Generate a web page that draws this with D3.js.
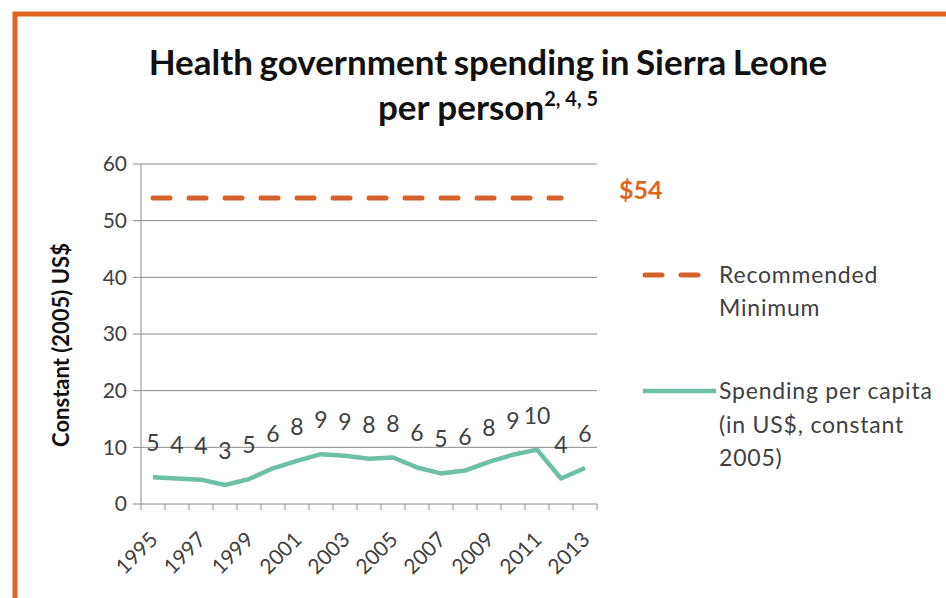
<!DOCTYPE html>
<html>
<head>
<meta charset="utf-8">
<script src="https://cdn.jsdelivr.net/npm/d3@7"></script>
<style>
    body { margin: 0; background: #fff; }
    text { font-family: Lato, "Open Sans", sans-serif; }
</style>
</head>
<body>
<div id="chart"></div>
<script>
// data
var years = ["1995","1996","1997","1998","1999","2000","2001","2002","2003","2004",
             "2005","2006","2007","2008","2009","2010","2011","2012","2013"];
var spending = [4.7, 4.5, 4.3, 3.35, 4.4, 6.3, 7.6, 8.8, 8.5, 8.0,
                8.2, 6.45, 5.4, 5.9, 7.45, 8.7, 9.6, 4.5, 6.35];
var spendingLabels = ["5","4","4","3","5","6","8","9","9","8","8","6","5","6","8","9","10","4","6"];
var minYears = years.slice(0, 18);
var minimum = 54;
var yTicks = [0, 10, 20, 30, 40, 50, 60];
var xTickLabels = ["1995","1997","1999","2001","2003","2005","2007","2009","2011","2013"];

var orange = "#e0661f";
var dashColor = "#d4622a";
var teal = "#6dbfa6";
var textColor = "#404040";
var gridColor = "#8a8a8a";

var margin = { top: 164, right: 349, bottom: 94, left: 141 };
var width = 946 - margin.left - margin.right;
var height = 598 - margin.top - margin.bottom;

var svg = d3.select("#chart").append("svg")
    .attr("width", 946)
    .attr("height", 598);

// slide frame
svg.append("path")
    .attr("d", "M15,598 L15,14 L946,14")
    .attr("fill", "none")
    .attr("stroke", orange)
    .attr("stroke-width", 5);

// title
svg.append("text")
    .attr("x", 488)
    .attr("y", 75)
    .attr("text-anchor", "middle")
    .attr("font-size", 35)
    .attr("font-weight", "bold")
    .attr("fill", "#111")
    .attr("word-spacing", -2)
    .text("Health government spending in Sierra Leone");

var title2 = svg.append("text")
    .attr("x", 488)
    .attr("y", 120)
    .attr("text-anchor", "middle")
    .attr("font-size", 35)
    .attr("font-weight", "bold")
    .attr("fill", "#111");
title2.append("tspan").text("per person");
title2.append("tspan")
    .attr("font-size", 20)
    .attr("dy", -14)
    .text("2, 4, 5");

var g = svg.append("g")
    .attr("transform", "translate(" + margin.left + "," + margin.top + ")");

var x = d3.scaleBand()
    .domain(years)
    .range([0, width]);
var y = d3.scaleLinear()
    .domain([0, 60])
    .range([height, 0]);

// gridlines
g.selectAll(".grid")
    .data(yTicks)
    .enter()
    .append("line")
    .attr("class", "grid")
    .attr("x1", -8)
    .attr("x2", width)
    .attr("y1", function(d) { return y(d); })
    .attr("y2", function(d) { return y(d); })
    .attr("stroke", gridColor)
    .attr("stroke-width", 1);

g.selectAll(".ylab")
    .data(yTicks)
    .enter()
    .append("text")
    .attr("class", "ylab")
    .attr("x", -14)
    .attr("y", function(d) { return y(d); })
    .attr("dy", "0.35em")
    .attr("text-anchor", "end")
    .attr("font-size", 21)
    .attr("fill", textColor)
    .text(function(d) { return d; });

// y axis line
g.append("line")
    .attr("x1", 0).attr("x2", 0)
    .attr("y1", 0).attr("y2", height)
    .attr("stroke", gridColor);

// x ticks at category boundaries
var bounds = years.map(function(d) { return x(d); }).concat([width]);
g.selectAll(".xtick")
    .data(bounds)
    .enter()
    .append("line")
    .attr("class", "xtick")
    .attr("x1", function(d) { return d; })
    .attr("x2", function(d) { return d; })
    .attr("y1", height)
    .attr("y2", height + 6)
    .attr("stroke", gridColor);

g.selectAll(".xlab")
    .data(xTickLabels)
    .enter()
    .append("text")
    .attr("class", "xlab")
    .attr("text-anchor", "end")
    .attr("font-size", 21)
    .attr("fill", textColor)
    .attr("transform", function(d) {
        return "translate(" + (x(d) + x.bandwidth() / 2 + 6) + "," + (height + 37) + ") rotate(-45)";
    })
    .text(function(d) { return d; });

// y axis title
svg.append("text")
    .attr("transform", "translate(69,345) rotate(-90)")
    .attr("text-anchor", "middle")
    .attr("font-size", 22)
    .attr("font-weight", "bold")
    .attr("fill", "#111")
    .text("Constant (2005) US$");

// recommended minimum
var line = d3.line()
    .x(function(d) { return x(d.year) + x.bandwidth() / 2; })
    .y(function(d) { return y(d.value); });

g.append("path")
    .datum(minYears.map(function(d) { return { year: d, value: minimum }; }))
    .attr("d", line)
    .attr("fill", "none")
    .attr("stroke", dashColor)
    .attr("stroke-width", 5)
    .attr("stroke-linecap", "round")
    .attr("stroke-dasharray", "17,19");

// spending per capita
var spendData = years.map(function(d, i) { return { year: d, value: spending[i], label: spendingLabels[i] }; });

g.append("path")
    .datum(spendData)
    .attr("d", line)
    .attr("fill", "none")
    .attr("stroke", teal)
    .attr("stroke-width", 4.5)
    .attr("stroke-linejoin", "round");

g.selectAll(".dlab")
    .data(spendData)
    .enter()
    .append("text")
    .attr("class", "dlab")
    .attr("x", function(d) { return x(d.year) + x.bandwidth() / 2; })
    .attr("y", function(d) { return y(d.value) - 26; })
    .attr("text-anchor", "middle")
    .attr("font-size", 23)
    .attr("fill", textColor)
    .text(function(d) { return d.label; });

// $54 note
svg.append("text")
    .attr("x", 619)
    .attr("y", 199)
    .attr("font-size", 25)
    .attr("font-weight", "bold")
    .attr("fill", orange)
    .text("$" + minimum);

// legend
svg.append("line")
    .attr("x1", 645).attr("x2", 700)
    .attr("y1", 275).attr("y2", 275)
    .attr("stroke", dashColor)
    .attr("stroke-width", 5)
    .attr("stroke-linecap", "round")
    .attr("stroke-dasharray", "17,19");

svg.append("line")
    .attr("x1", 643).attr("x2", 716)
    .attr("y1", 391).attr("y2", 391)
    .attr("stroke", teal)
    .attr("stroke-width", 4.5);

var legendText = [
    { y: 283, t: "Recommended" },
    { y: 316, t: "Minimum" },
    { y: 399, t: "Spending per capita" },
    { y: 433, t: "(in US$, constant" },
    { y: 466, t: "2005)" }
];
svg.selectAll(".leg")
    .data(legendText)
    .enter()
    .append("text")
    .attr("class", "leg")
    .attr("x", 719)
    .attr("y", function(d) { return d.y; })
    .attr("font-size", 23)
    .attr("letter-spacing", 0.8)
    .attr("fill", textColor)
    .text(function(d) { return d.t; });
</script>
</body>
</html>
